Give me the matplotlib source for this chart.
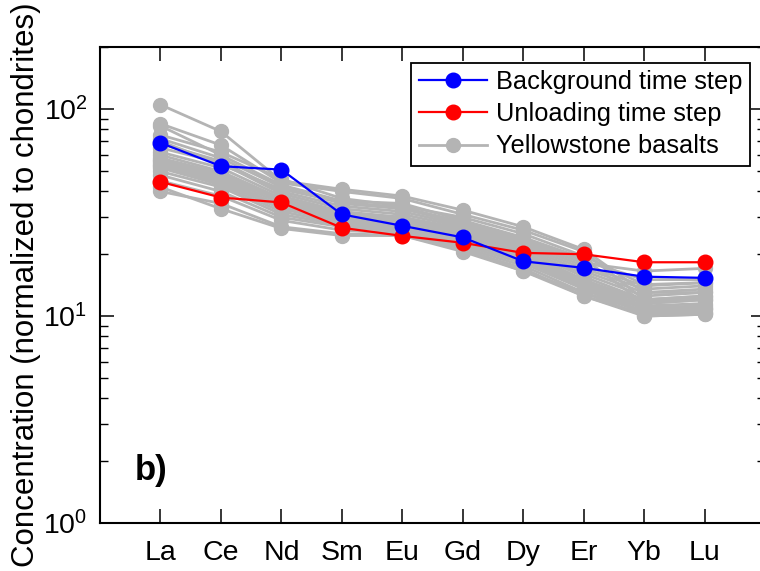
import matplotlib
matplotlib.use("Agg")
import matplotlib.pyplot as plt
from matplotlib.ticker import LogLocator, NullFormatter

plt.rcParams["font.family"] = ["Liberation Sans", "DejaVu Sans"]
plt.rcParams["mathtext.fontset"] = "custom"
plt.rcParams["mathtext.rm"] = "Liberation Sans"

elements = ["La", "Ce", "Nd", "Sm", "Eu", "Gd", "Dy", "Er", "Yb", "Lu"]

background = [68.7, 53.0, 51.0, 31.0, 27.3, 24.0, 18.4, 17.1, 15.5, 15.3]
unloading = [44.5, 37.4, 35.4, 26.7, 24.4, 22.6, 20.2, 19.9, 18.2, 18.2]

# Yellowstone basalt REE patterns
basalts = [
    [105, 78, 45, 41, 38, 32.5, 27, 21, 13, 13],
    [85, 67, 44, 40, 37, 31, 26, 20.5, 12, 12.5],
    [83, 60, 43, 36, 35, 29, 24, 19, 11.5, 12],
    [72, 58, 42, 35, 33, 28, 23, 18, 16.5, 17],
    [68, 56, 40, 34, 32, 27.5, 22.5, 17.5, 14, 14.5],
    [65, 55, 39, 33, 31, 27, 22, 17, 13.5, 14],
    [62, 52, 38, 32, 30, 26.5, 21.5, 16.5, 13, 13.5],
    [60, 50, 37, 31.5, 30, 26, 21, 16, 12.5, 13],
    [58, 49, 36, 31, 29.5, 25.5, 21, 15.5, 12, 12.5],
    [57, 48, 36, 30.5, 29, 25, 20.5, 15, 11.8, 12.2],
    [56, 47, 35, 30, 28.5, 24.5, 20, 14.8, 11.5, 12],
    [55, 46, 34, 29.5, 28, 24, 19.5, 14.5, 11.2, 11.5],
    [54, 45, 33.5, 29, 27.5, 23.5, 19, 14.2, 11, 11.2],
    [53, 44, 33, 28.5, 27, 23, 19, 14, 10.8, 11],
    [52, 43, 32, 28, 26.5, 22.5, 18.5, 13.8, 10.5, 10.8],
    [50, 42, 31, 27.5, 26, 22, 18, 13.5, 10.3, 10.5],
    [48, 40, 30, 27, 25.5, 21.5, 17.5, 13, 10, 10.2],
    [45, 38, 29, 26, 25, 21, 17, 12.5, 10, 10.2],
    [40, 35, 27, 25, 24.5, 20.5, 16.5, 12.5, 10.2, 10.4],
    [42, 33, 26.5, 24.5, 24.5, 21, 16.5, 13, 10.5, 10.8],
    [75, 62, 46, 37, 34, 30, 25, 19.5, 14.2, 14.5],
    [70, 54, 41, 35.5, 33.5, 28.5, 23.5, 18.5, 15, 15],
]

x = list(range(1, len(elements) + 1))

fig = plt.figure(figsize=(7.6, 5.71), dpi=100)
ax = fig.add_axes([0.1316, 0.084, 0.875, 0.834])

gray = "#b4b4b4"
for i, row in enumerate(basalts):
    ax.plot(x, row, color=gray, lw=2.0, marker="o", ms=10, mec=gray, mfc=gray,
            label="Yellowstone basalts" if i == 0 else None, zorder=2)

ax.plot(x, background, color="#0000ff", lw=1.6, marker="o", ms=10.5, mec="#0000ff",
        mfc="#0000ff", label="Background time step", zorder=4)
ax.plot(x, unloading, color="#ff0000", lw=1.6, marker="o", ms=10.5, mec="#ff0000",
        mfc="#ff0000", label="Unloading time step", zorder=3)

ax.set_yscale("log")
ax.set_ylim(1, 200)
ax.set_xlim(0, 11)
ax.set_xticks(x)
ax.set_xticklabels(elements)
ax.yaxis.set_major_locator(LogLocator(base=10, numticks=10))
ax.yaxis.set_minor_locator(LogLocator(base=10, subs=range(2, 10), numticks=10))
ax.yaxis.set_minor_formatter(NullFormatter())

ax.tick_params(axis="both", which="major", direction="in", top=True, right=True,
               length=10, width=1.1, labelsize=20.5, pad=9)
ax.tick_params(axis="x", which="major", pad=12)
ax.tick_params(axis="y", which="minor", direction="in", right=True, length=6, width=1.0)
ax.tick_params(axis="x", which="minor", bottom=False, top=False)
for s in ax.spines.values():
    s.set_linewidth(1.5)

ax.set_ylabel("Concentration (normalized to chondrites)", fontsize=22.5, labelpad=2)
ax.text(0.053, 0.11, "b)", transform=ax.transAxes, fontsize=25, fontweight="bold",
        ha="left", va="center")

handles, labels = ax.get_legend_handles_labels()
order = [1, 2, 0]
leg = ax.legend([handles[i] for i in order], [labels[i] for i in order],
                loc="upper right", bbox_to_anchor=(0.978, 0.967), fontsize=18.3,
                frameon=True, fancybox=False, framealpha=1, edgecolor="black",
                handlelength=2.7, handletextpad=0.35, labelspacing=0.32,
                borderpad=0.3, borderaxespad=0)
leg.get_frame().set_linewidth(1.3)

fig.savefig("out.png", dpi=100)
